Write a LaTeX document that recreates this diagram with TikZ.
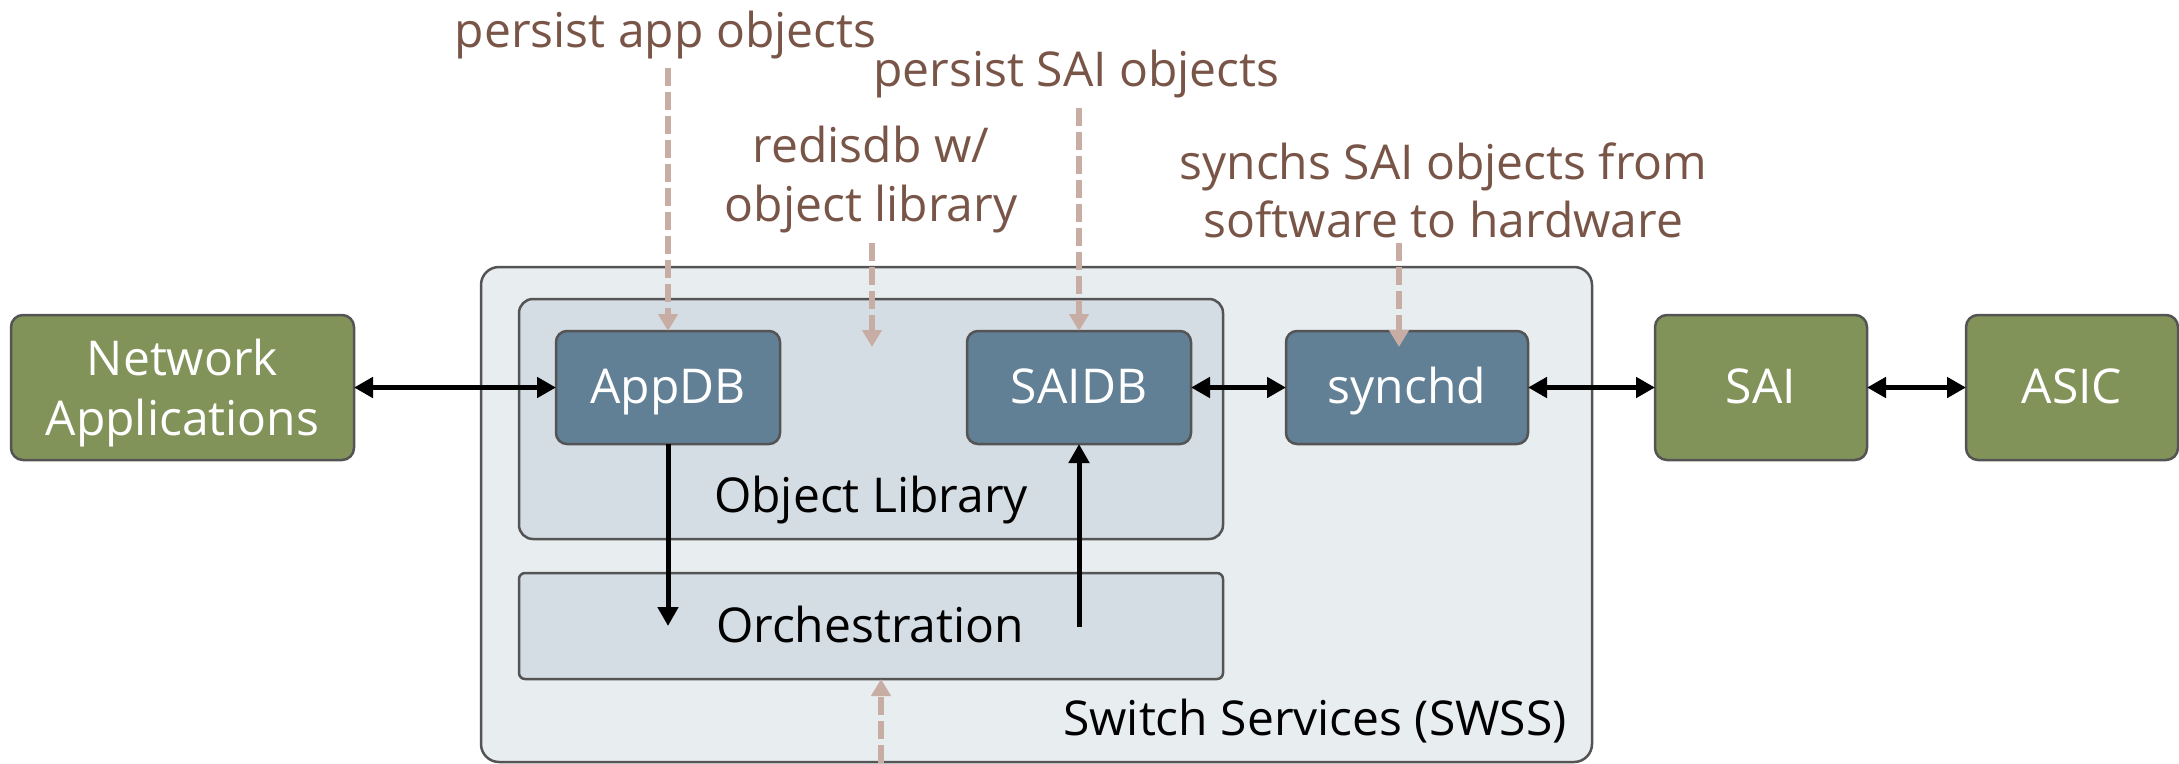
\documentclass[tikz,border=0pt]{standalone}
\usepackage{fontspec}
\setmainfont{Open Sans}
\usetikzlibrary{arrows.meta}

\definecolor{hwgreen}{HTML}{82935A}
\definecolor{dbblue}{HTML}{617F95}
\definecolor{swssfill}{HTML}{E8EDF0}
\definecolor{libfill}{HTML}{D4DDE4}
\definecolor{edgegray}{HTML}{545454}
\definecolor{notebrown}{HTML}{795548}
\definecolor{notedash}{HTML}{C8ADA4}

\newcommand\bxfont{\fontsize{48}{60}\selectfont}
\newcommand\notefont{\fontsize{48}{59}\selectfont}

\begin{document}
\begin{tikzpicture}[x=1pt,y=-1pt,
  frame/.style={draw=edgegray, line width=2.5pt, inner sep=0pt, outer sep=0pt},
  swssbox/.style={frame, fill=swssfill, rounded corners=18pt},
  libbox/.style={frame, fill=libfill, rounded corners=14pt, minimum width=704pt},
  dbbox/.style={frame, fill=dbblue, rounded corners=11pt, minimum height=113pt,
    text=white, font=\bxfont, text height=32pt, text depth=0pt},
  hwbox/.style={frame, fill=hwgreen, rounded corners=12pt, minimum width=212pt,
    minimum height=145pt, text=white, font=\bxfont, text height=32pt, text depth=0pt},
  bxtext/.style={inner sep=0pt, font=\bxfont},
  note/.style={inner sep=0pt, font=\notefont, text=notebrown},
  tip/.tip={Triangle[length=19pt,width=20pt]},
  link/.style={line width=5pt, black},
  dlink/.style={line width=6pt, notedash, dash pattern=on 18pt off 6pt,
    -{Triangle[length=17pt,width=19pt]}},
]
\useasboundingbox (0,0) rectangle (2179,763);

% containers
\node[swssbox, minimum width=1111pt, minimum height=495pt] (swss) at (1036.5,514.5) {};
\node[libbox, minimum height=240pt] (objlib) at (871,419) {};
\node[libbox, rounded corners=6pt, minimum height=106pt] (orch) at (871,626) {};
\node[bxtext, anchor=base] (objlibtext) at (871,512) {Object Library};
\node[bxtext, anchor=base] (orchtext) at (870,642) {Orchestration};
\node[bxtext, anchor=base east] (swsstext) at (1567,735) {Switch Services (SWSS)};

% databases and daemons
\node[dbbox, minimum width=224pt] (appdb) at (668,387.5) {AppDB};
\node[dbbox, minimum width=224pt] (saidb) at (1079,387.5) {SAIDB};
\node[dbbox, minimum width=242pt] (synchd) at (1407,387.5) {synchd};

% outside blocks
\node[hwbox, minimum width=343pt] (netapp) at (182.5,387.5) {};
\node[bxtext, text=white, align=center] (netapptext) at (182.5,392.8) {Network\\Applications};
\node[hwbox] (sai) at (1761,387.5) {SAI};
\node[hwbox] (asic) at (2072,387.5) {ASIC};

% data paths
\draw[link, tip-tip] (netapp.east) -- (appdb.west);
\draw[link, tip-tip] (saidb.east) -- (synchd.west);
\draw[link, tip-tip] (synchd.east) -- (sai.west);
\draw[link, tip-tip] (sai.east) -- (asic.west);
\coordinate (appout) at (668,626);
\coordinate (saiin) at (1079,627);
\draw[link, -tip] (appdb.south) -- (appout);
\draw[link, -tip] (saiin) -- (saidb.south);

% annotations
\node[note, anchor=base] (lapp) at (665.5,47) {persist app objects};
\node[note, anchor=base] (lsai) at (1076.5,86) {persist SAI objects};
\node[note, align=center] (lredis) at (871,180) {redisdb w/\\object library};
\node[note, align=center, font=\fontsize{48}{58}\selectfont] (lsync) at (1443.5,190) {synchs SAI objects from\\software to hardware};

\coordinate (appsrc) at (668,68);
\coordinate (saisrc) at (1079,108);
\coordinate (redsrc) at (872,243);
\coordinate (redtip) at (872,347);
\coordinate (syncsrc) at (1399,243);
\coordinate (synctip) at (1399,347);
\coordinate (orchsrc) at (881,763);

\draw[dlink] (appsrc) -- (appdb.north);
\draw[dlink] (saisrc) -- (saidb.north);
\draw[dlink] (redsrc) -- (redtip);
\draw[dlink] (syncsrc) -- (synctip);
\draw[dlink] (orchsrc) -- (orchsrc |- orch.south);
\end{tikzpicture}
\end{document}
